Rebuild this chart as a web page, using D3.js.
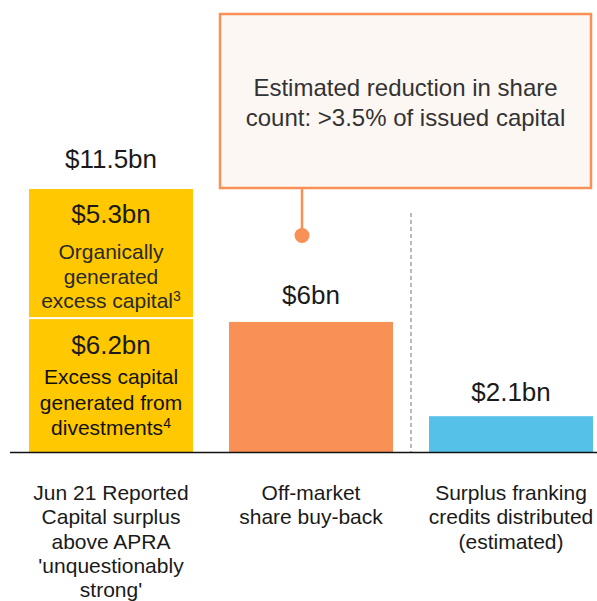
<!DOCTYPE html>
<html>
<head>
<meta charset="utf-8">
<script src="https://cdn.jsdelivr.net/npm/d3@7"></script>
<style>
  body { margin: 0; background: #fff; }
  svg { display: block; font-family: "Liberation Sans", Arial, sans-serif; }
</style>
</head>
<body>
<svg width="597" height="601"></svg>
<script>
// data
var categories = ['surplus', 'buyback', 'franking'];
var categoryLines = [
    ['Jun 21 Reported', 'Capital surplus', 'above APRA', "'unquestionably", "strong'"],
    ['Off-market', 'share buy-back'],
    ['Surplus franking', 'credits distributed', '(estimated)']
];
var totals = [11.5, 6, 2.1];
var totalLabels = ['$11.5bn', '$6bn', '$2.1bn'];

// stacked pieces of the first bar, bottom first
var stackValues = [6.2, 5.3];
var stackLabels = ['$6.2bn', '$5.3bn'];
var stackText = [
    ['Excess capital', 'generated from', 'divestments'],
    ['Organically', 'generated', 'excess capital']
];
var stackNotes = ['4', '3'];

var calloutLines = ['Estimated reduction in share', 'count: >3.5% of issued capital'];

var svg = d3.select('svg');
var base = 452;

var colors = ['#FFC800', '#F99157', '#55C1E8'];
var orange = '#F99157';
var labelGap = [21, 18, 15]; // gap between bar top and its total label

var x = d3.scaleBand()
    .domain(categories)
    .range([11, 611])
    .paddingInner(0.18)
    .paddingOuter(0.09);

// the slide's bars are not drawn from zero, so the scale is fitted to them
var y = d3.scaleLinear()
    .domain([0.62, 11.5])
    .range([base, 189])
    .clamp(true);

// callout box
var box = {x: 220, y: 14, w: 371, h: 174};
svg.append('rect')
    .attr('x', box.x).attr('y', box.y)
    .attr('width', box.w).attr('height', box.h)
    .attr('fill', '#FDF7F4')
    .attr('stroke', orange)
    .attr('stroke-width', 2.5);

svg.append('text')
    .attr('text-anchor', 'middle')
    .attr('fill', '#333')
    .style('font-size', '24px')
    .selectAll('tspan')
    .data(calloutLines)
    .enter().append('tspan')
    .attr('x', box.x + box.w / 2)
    .attr('y', function(d, i) { return 96 + i * 29.5; })
    .text(function(d) { return d; });

svg.append('line')
    .attr('x1', 302).attr('x2', 302)
    .attr('y1', box.y + box.h).attr('y2', 235)
    .attr('stroke', orange)
    .attr('stroke-width', 2.5);
svg.append('circle')
    .attr('cx', 302).attr('cy', 235.5)
    .attr('r', 7.5)
    .attr('fill', orange);

// divider between buy-back and franking
var divX = (x('buyback') + x.bandwidth() + x('franking')) / 2;
svg.append('line')
    .attr('x1', divX).attr('x2', divX)
    .attr('y1', 213).attr('y2', base)
    .attr('stroke', '#8c8c8c')
    .attr('stroke-width', 1.2)
    .attr('stroke-dasharray', '4,3');

// stacked first bar
var stackTops = d3.cumsum(stackValues);
var seg = svg.selectAll('.seg')
    .data(stackValues)
    .enter().append('g')
    .attr('class', 'seg');

seg.append('rect')
    .attr('x', x('surplus'))
    .attr('width', x.bandwidth())
    .attr('y', function(d, i) { return y(stackTops[i]) + (i === 0 ? 2 : 0); })
    .attr('height', function(d, i) {
        var bottom = i === 0 ? base : y(stackTops[i - 1]);
        return bottom - y(stackTops[i]) - (i === 0 ? 2 : 0);
    })
    .attr('fill', colors[0]);

var cx0 = x('surplus') + x.bandwidth() / 2;
seg.append('text')
    .attr('x', cx0)
    .attr('y', function(d, i) { return y(stackTops[i]) + (i === 0 ? 37 : 34); })
    .attr('text-anchor', 'middle')
    .attr('fill', '#1a1a1a')
    .style('font-size', '26px')
    .text(function(d, i) { return stackLabels[i]; });

seg.each(function(d, i) {
    var g = d3.select(this);
    var top = y(stackTops[i]);
    var first = i === 0 ? 67 : 70;
    var gap = i === 0 ? 25.5 : 24.5;
    var t = g.append('text')
        .attr('text-anchor', 'middle')
        .attr('fill', i === 0 ? '#111' : '#2a2a2a')
        .style('font-size', '21px');
    stackText[i].forEach(function(line, j) {
        t.append('tspan')
            .attr('x', cx0)
            .attr('y', top + first + j * gap)
            .text(line);
        if (j === stackText[i].length - 1) {
            t.append('tspan')
                .attr('dy', -7)
                .style('font-size', '14px')
                .text(stackNotes[i]);
        }
    });
});

// the other two bars
svg.selectAll('.bar')
    .data(totals.slice(1))
    .enter().append('rect')
    .attr('class', 'bar')
    .attr('x', function(d, i) { return x(categories[i + 1]); })
    .attr('width', x.bandwidth())
    .attr('y', function(d) { return y(d); })
    .attr('height', function(d) { return base - y(d); })
    .attr('fill', function(d, i) { return colors[i + 1]; });

// totals above bars
svg.selectAll('.total')
    .data(totals)
    .enter().append('text')
    .attr('class', 'total')
    .attr('x', function(d, i) { return x(categories[i]) + x.bandwidth() / 2; })
    .attr('y', function(d, i) { return y(d) - labelGap[i]; })
    .attr('text-anchor', 'middle')
    .attr('fill', '#1a1a1a')
    .style('font-size', '26px')
    .text(function(d, i) { return totalLabels[i]; });

// baseline
svg.append('line')
    .attr('x1', 10).attr('x2', 597)
    .attr('y1', base + 0.5).attr('y2', base + 0.5)
    .attr('stroke', '#111')
    .attr('stroke-width', 1.5);

// category labels
svg.selectAll('.cat')
    .data(categories)
    .enter().append('text')
    .attr('class', 'cat')
    .attr('text-anchor', 'middle')
    .attr('fill', '#1a1a1a')
    .style('font-size', '21px')
    .each(function(d, i) {
        var t = d3.select(this);
        categoryLines[i].forEach(function(line, j) {
            t.append('tspan')
                .attr('x', x(d) + x.bandwidth() / 2)
                .attr('y', 500 + j * 24.3)
                .text(line);
        });
    });
</script>
</body>
</html>
